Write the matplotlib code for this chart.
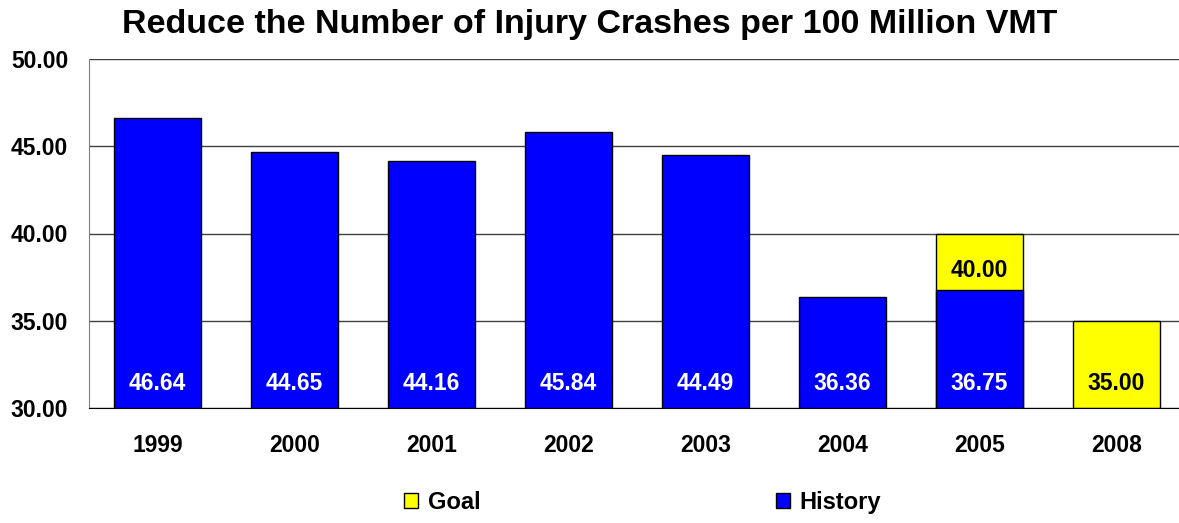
import matplotlib.pyplot as plt

plt.rcParams['font.family'] = ['Liberation Sans', 'DejaVu Sans']
plt.rcParams['font.weight'] = 'bold'

years = ["1999", "2000", "2001", "2002", "2003", "2004", "2005", "2008"]
history = [46.64, 44.65, 44.16, 45.84, 44.49, 36.36, 36.75, None]
goal = [None, None, None, None, None, None, 40.00, 35.00]

fig = plt.figure(figsize=(11.79, 5.23), dpi=100)
ax = fig.add_axes([89 / 1179, 1 - 408 / 523, 1096 / 1179, 349 / 523])

x = list(range(len(years)))
width = 0.63
base = 30

for i in x:
    if goal[i] is not None:
        ax.bar(i, goal[i] - base, bottom=base, width=width, color="#FFFF00",
               edgecolor="black", linewidth=1, zorder=2)
    if history[i] is not None:
        ax.bar(i, history[i] - base, bottom=base, width=width, color="#0000FF",
               edgecolor="black", linewidth=1, zorder=3)

for i in x:
    if history[i] is not None:
        ax.text(i, 31.4, f"{history[i]:.2f}", ha="center", va="center",
                color="white", fontsize=16.5, fontweight="bold", zorder=4)
        if goal[i] is not None:
            ax.text(i, 37.9, f"{goal[i]:.2f}", ha="center", va="center",
                    color="black", fontsize=16.5, fontweight="bold", zorder=4)
    elif goal[i] is not None:
        ax.text(i, 31.4, f"{goal[i]:.2f}", ha="center", va="center",
                color="black", fontsize=16.5, fontweight="bold", zorder=4)

ax.set_xlim(-0.5, len(years) - 0.5)
ax.set_ylim(30, 50)
ax.set_yticks([30, 35, 40, 45, 50])
ax.set_yticklabels([f"{v:.2f}" for v in [30, 35, 40, 45, 50]], fontsize=16.5, fontweight="bold")
ax.set_xticks(x)
ax.set_xticklabels(years, fontsize=16.5, fontweight="bold")
ax.tick_params(axis="both", length=0)
ax.tick_params(axis="x", pad=19)
ax.tick_params(axis="y", pad=15)
ax.yaxis.grid(True, color="#404040", linewidth=1)
ax.set_axisbelow(True)
for side in ["top", "right"]:
    ax.spines[side].set_visible(False)
ax.spines["left"].set_color("#808080")
ax.spines["bottom"].set_color("black")

fig.text(0.5, 0.953, "Reduce the Number of Injury Crashes per 100 Million VMT",
         ha="center", va="center", fontsize=24.5, fontweight="bold")

h1 = plt.Rectangle((0, 0), 1, 1, facecolor="#FFFF00", edgecolor="black")
h2 = plt.Rectangle((0, 0), 1, 1, facecolor="#0000FF", edgecolor="black")
fig.legend([h1, h2], ["Goal", "History"], loc="center", bbox_to_anchor=(0.545, 0.04),
           ncol=2, frameon=False, fontsize=17, handlelength=0.6, handleheight=0.6,
           handletextpad=0.4, columnspacing=12.5)

fig.savefig("out.png", dpi=100)
